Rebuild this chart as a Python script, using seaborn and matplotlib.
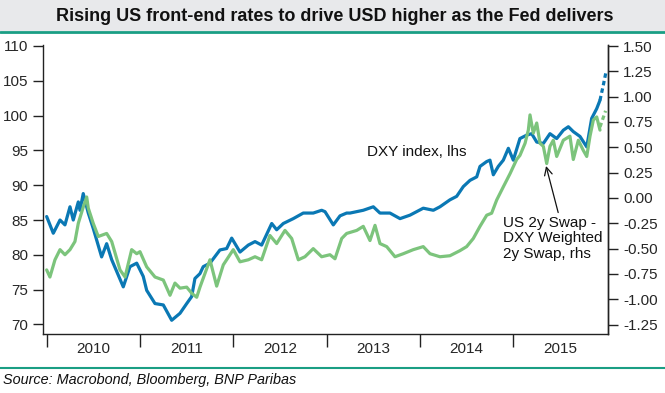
import matplotlib
matplotlib.use("Agg")
import matplotlib.pyplot as plt
import seaborn as sns
import pandas as pd
from matplotlib.patches import Rectangle
from matplotlib.lines import Line2D

# decimal-year positions and values
dxy_t = [2010.000, 2010.071, 2010.143, 2010.196, 2010.250, 2010.285, 2010.339, 2010.357,
         2010.392, 2010.446, 2010.499, 2010.589, 2010.643, 2010.697, 2010.821, 2010.893,
         2010.965, 2011.035, 2011.072, 2011.161, 2011.250, 2011.340, 2011.429, 2011.501,
         2011.554, 2011.589, 2011.643, 2011.678, 2011.750, 2011.857, 2011.929, 2011.983,
         2012.072, 2012.161, 2012.233, 2012.304, 2012.412, 2012.465, 2012.536, 2012.643,
         2012.750, 2012.857, 2012.947, 2012.983, 2013.072, 2013.144, 2013.215, 2013.251,
         2013.393, 2013.501, 2013.572, 2013.679, 2013.787, 2013.894, 2014.036, 2014.144,
         2014.215, 2014.322, 2014.394, 2014.465, 2014.537, 2014.609, 2014.644, 2014.716,
         2014.751, 2014.787, 2014.840, 2014.894, 2014.948, 2015.001, 2015.072, 2015.145,
         2015.198, 2015.252, 2015.323, 2015.394, 2015.466, 2015.537, 2015.591, 2015.644,
         2015.716, 2015.788, 2015.841, 2015.895, 2015.930]
dxy = [85.5, 83.1, 85.0, 84.3, 86.9, 85.0, 87.6, 86.4,
       88.8, 86.0, 83.8, 79.7, 81.6, 79.3, 75.4, 78.3,
       78.8, 76.9, 74.9, 73.0, 72.8, 70.6, 71.6, 73.0,
       74.0, 76.6, 77.3, 78.3, 78.8, 80.7, 80.9, 82.4,
       80.4, 81.4, 81.9, 81.4, 84.5, 83.6, 84.5, 85.2,
       86.0, 86.0, 86.4, 86.2, 84.3, 85.6, 86.0, 86.0,
       86.4, 86.9, 86.0, 86.0, 85.2, 85.7, 86.7, 86.4,
       86.9, 87.9, 88.4, 89.8, 90.7, 91.2, 92.7, 93.4,
       93.6, 91.5, 92.7, 93.6, 95.3, 93.6, 96.7, 97.2,
       97.4, 96.2, 96.0, 97.4, 96.7, 97.9, 98.4, 97.7,
       97.0, 95.5, 99.6, 101.0, 102.2]
dxy_fc_t = [2015.930, 2015.966, 2015.995]
dxy_fc = [102.2, 104.4, 106.3]

swap_t = [2010.000, 2010.035, 2010.089, 2010.143, 2010.196, 2010.250, 2010.303, 2010.339,
          2010.392, 2010.429, 2010.446, 2010.499, 2010.553, 2010.643, 2010.697, 2010.786,
          2010.840, 2010.911, 2010.965, 2011.000, 2011.072, 2011.161, 2011.250, 2011.322,
          2011.375, 2011.429, 2011.501, 2011.554, 2011.608, 2011.643, 2011.750, 2011.822,
          2011.893, 2012.000, 2012.072, 2012.161, 2012.233, 2012.304, 2012.393, 2012.465,
          2012.554, 2012.626, 2012.697, 2012.768, 2012.857, 2012.947, 2013.036, 2013.090,
          2013.162, 2013.215, 2013.323, 2013.393, 2013.465, 2013.519, 2013.572, 2013.644,
          2013.733, 2013.822, 2013.929, 2014.036, 2014.108, 2014.215, 2014.322, 2014.429,
          2014.501, 2014.572, 2014.644, 2014.716, 2014.769, 2014.823, 2014.894, 2014.966,
          2015.037, 2015.072, 2015.127, 2015.162, 2015.180, 2015.215, 2015.252, 2015.287,
          2015.323, 2015.359, 2015.394, 2015.430, 2015.466, 2015.537, 2015.608, 2015.644,
          2015.698, 2015.751, 2015.788, 2015.823, 2015.859, 2015.895, 2015.930]
swap = [-0.71, -0.78, -0.61, -0.51, -0.56, -0.51, -0.43, -0.25,
        -0.09, 0.01, -0.10, -0.25, -0.38, -0.35, -0.43, -0.71,
        -0.78, -0.51, -0.55, -0.53, -0.68, -0.78, -0.81, -0.96,
        -0.84, -0.89, -0.88, -0.94, -0.98, -0.88, -0.61, -0.87,
        -0.66, -0.51, -0.63, -0.61, -0.58, -0.61, -0.37, -0.45,
        -0.32, -0.40, -0.61, -0.58, -0.50, -0.58, -0.56, -0.60,
        -0.40, -0.35, -0.32, -0.28, -0.42, -0.27, -0.45, -0.48,
        -0.58, -0.55, -0.51, -0.48, -0.55, -0.58, -0.57, -0.52,
        -0.48, -0.40, -0.28, -0.17, -0.15, -0.02, 0.11, 0.24,
        0.38, 0.42, 0.54, 0.67, 0.82, 0.64, 0.74, 0.54,
        0.51, 0.34, 0.51, 0.57, 0.41, 0.57, 0.61, 0.38,
        0.57, 0.47, 0.41, 0.61, 0.77, 0.80, 0.67]
swap_fc_t = [2015.930, 2015.990]
swap_fc = [0.70, 0.86]

years = [2010, 2011, 2012, 2013, 2014, 2015]
left_ticks = [70, 75, 80, 85, 90, 95, 100, 105, 110]
right_ticks = [-1.25, -1.0, -0.75, -0.5, -0.25, 0.0, 0.25, 0.5, 0.75, 1.0, 1.25, 1.5]

BLUE = "#0a78b4"
GREEN = "#7cc47c"
TEAL = "#1a9e84"

sns.set_style("white")
plt.rcParams['font.family'] = ['Liberation Sans', 'DejaVu Sans']

df_dxy = pd.DataFrame({'t': dxy_t, 'v': dxy})
df_swap = pd.DataFrame({'t': swap_t, 'v': swap})

fig = plt.figure(figsize=(6.65, 3.93), dpi=100)
ax = fig.add_axes([0.0654, 0.150, 0.8489, 0.7355])
ax2 = ax.twinx()

sns.lineplot(data=df_dxy, x='t', y='v', ax=ax, color=BLUE, lw=2.3, estimator=None, sort=False)
sns.lineplot(x=dxy_fc_t, y=dxy_fc, ax=ax, color=BLUE, lw=2.3, linestyle=(0, (1.4, 1.0)))
sns.lineplot(data=df_swap, x='t', y='v', ax=ax2, color=GREEN, lw=2.3, estimator=None, sort=False)
sns.lineplot(x=swap_fc_t, y=swap_fc, ax=ax2, color=GREEN, lw=2.3, linestyle=(0, (1.4, 1.0)))

ax.set_xlim(2009.966, 2016.016)
ax.set_ylim(68.62, 110.14)
ax2.set_ylim(-1.343, 1.51)

for a in (ax, ax2):
    a.set_xlabel('')
    a.set_ylabel('')
    a.spines['top'].set_visible(False)
    for s in a.spines.values():
        s.set_color('#222222')
        s.set_linewidth(1.0)

ax.set_xticks(years)
ax.set_xticklabels([])
ax.set_xticks([y + 0.5 for y in years], minor=True)
ax.set_xticklabels([str(y) for y in years], minor=True)
ax.tick_params(axis='x', which='major', direction='out', length=9, width=1, color='#222222', bottom=True)
ax.tick_params(axis='x', which='minor', length=0, pad=6, labelsize=11)

ax.set_yticks(left_ticks)
ax.set_yticklabels([str(v) for v in left_ticks])
ax.tick_params(axis='y', direction='out', length=7, width=1, color='#222222', left=True, labelsize=11, pad=4)

ax2.set_yticks(right_ticks)
ax2.set_yticklabels(['%.2f' % v if v >= 0 else '-%.2f' % abs(v) for v in right_ticks])
ax2.tick_params(axis='y', direction='out', length=7, width=1, color='#222222', right=True, labelsize=11, pad=4)
ax2.spines['left'].set_visible(False)
ax2.spines['bottom'].set_visible(False)

ax.text(2013.433, 94.8, 'DXY index, lhs', fontsize=11, va='center', ha='left', color='#111111')
ax.annotate('US 2y Swap -\nDXY Weighted\n2y Swap, rhs', xy=(2015.352, 92.76), xytext=(2014.894, 85.6),
            fontsize=11, va='top', ha='left', linespacing=1.15, color='#111111',
            arrowprops=dict(arrowstyle='->', color='#111111', lw=0.9, shrinkA=0, shrinkB=0,
                            relpos=(0.56, 1.0), mutation_scale=14))

# title band and rules
fig.patches.append(Rectangle((0, 0.921), 1, 0.079, transform=fig.transFigure,
                             facecolor='#e8e9eb', edgecolor='none', zorder=0))
fig.lines.append(Line2D([0, 1], [0.9175, 0.9175], transform=fig.transFigure, color=TEAL, lw=2))
fig.lines.append(Line2D([0, 1], [0.0636, 0.0636], transform=fig.transFigure, color=TEAL, lw=1.5))
fig.text(0.503, 0.959, 'Rising US front-end rates to drive USD higher as the Fed delivers',
         ha='center', va='center', fontsize=13, fontweight='bold', color='#111111')
fig.text(0.005, 0.033, 'Source: Macrobond, Bloomberg, BNP Paribas', ha='left', va='center',
         fontsize=10.4, fontstyle='italic', color='#111111')

fig.savefig('out.png', dpi=100)
